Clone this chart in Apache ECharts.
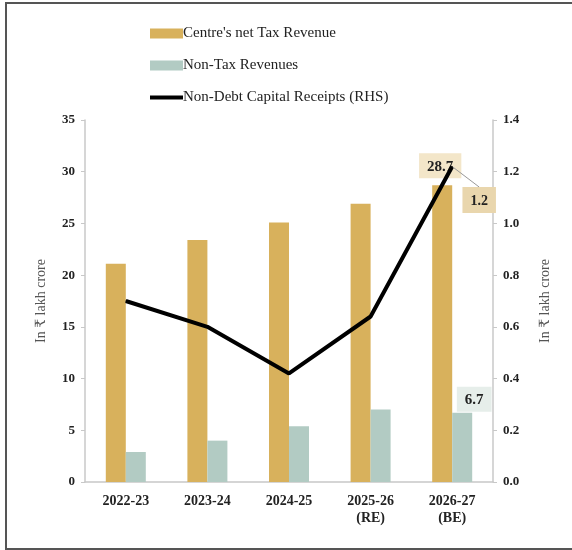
<!DOCTYPE html>
<html>
<head>
<meta charset="utf-8">
<script src="https://cdn.jsdelivr.net/npm/echarts@6/dist/echarts.min.js"></script>
<style>
  html, body { margin: 0; padding: 0; background: #fff; }
  #chart { width: 572px; height: 550px; }
</style>
</head>
<body>
<div id="chart"></div>
<script>
// 数据
const categories = ['2022-23', '2023-24', '2024-25', '2025-26\n(RE)', '2026-27\n(BE)']
const taxRevenue = [21.1, 23.4, 25.1, 26.9, 28.7]
const nonTaxRevenue = [2.9, 4.0, 5.4, 7.0, 6.7]
const capitalReceipts = [0.70, 0.60, 0.42, 0.64, 1.22]
const leftTicks = [0, 35, 5]
const rightTicks = [0, 1.4, 0.2]

const serif = '"Liberation Serif", "DejaVu Serif", serif'
const tickFont = { color: '#222', fontFamily: serif, fontWeight: 'bold', fontSize: 13 }
const last = categories.length - 1

const chart = echarts.init(document.getElementById('chart'))

const option = {
    backgroundColor: '#fff',
    animation: false,
    graphic: [{ // 外框
        type: 'rect',
        shape: { x: 6, y: 3, width: 620, height: 546 },
        style: { fill: 'none', stroke: '#555', lineWidth: 2 },
        silent: true
    }],
    grid: { left: 85, right: 79, top: 120, bottom: 68 },
    legend: {
        orient: 'vertical',
        left: 148,
        top: 26,
        padding: 0,
        itemWidth: 33,
        itemHeight: 10,
        itemGap: 17,
        textStyle: { color: '#222', fontFamily: serif, fontSize: 15, lineHeight: 14, padding: [0, 0, 0, -5] },
        data: [
            { name: "Centre's net Tax Revenue", icon: 'rect' },
            { name: 'Non-Tax Revenues', icon: 'rect' },
            { name: 'Non-Debt Capital Receipts (RHS)', itemStyle: { opacity: 0 }, lineStyle: { width: 4 } }
        ]
    },
    xAxis: {
        type: 'category',
        data: categories,
        axisLine: { lineStyle: { color: '#c8c8c8', width: 1.5 } },
        axisTick: { show: false },
        axisLabel: { ...tickFont, fontSize: 14, margin: 11, lineHeight: 17 }
    },
    yAxis: [{
        type: 'value',
        min: leftTicks[0],
        max: leftTicks[1],
        interval: leftTicks[2],
        name: 'In ₹ lakh crore',
        nameLocation: 'middle',
        nameGap: 37,
        nameTextStyle: { color: '#555', fontFamily: serif, fontSize: 14 },
        axisLine: { show: true, lineStyle: { color: '#c8c8c8', width: 1.5 } },
        axisTick: { show: true, length: 4, lineStyle: { color: '#c8c8c8' } },
        axisLabel: { ...tickFont, margin: 10 },
        splitLine: { show: false }
    }, {
        type: 'value',
        min: rightTicks[0],
        max: rightTicks[1],
        interval: rightTicks[2],
        name: 'In ₹ lakh crore',
        nameLocation: 'middle',
        nameGap: 45,
        nameRotate: 90,
        nameTextStyle: { color: '#555', fontFamily: serif, fontSize: 14 },
        axisLine: { show: true, lineStyle: { color: '#c8c8c8', width: 1.5 } },
        axisTick: { show: true, length: 4, lineStyle: { color: '#c8c8c8' } },
        axisLabel: { ...tickFont, margin: 10, formatter: v => v.toFixed(1) },
        splitLine: { show: false }
    }],
    series: [{
        type: 'bar',
        name: "Centre's net Tax Revenue",
        color: '#d8b15c',
        barWidth: 20,
        barGap: '0%',
        data: taxRevenue.map((v, i) => i === last ? {
            value: v,
            label: {
                show: true,
                position: 'top',
                distance: 7,
                offset: [-2, 0],
                backgroundColor: '#f3e6c9',
                padding: [6, 8, 4, 8],
                color: '#222',
                fontFamily: serif,
                fontWeight: 'bold',
                fontSize: 15
            }
        } : v)
    }, {
        type: 'bar',
        name: 'Non-Tax Revenues',
        color: '#b2cbc3',
        barWidth: 20,
        data: nonTaxRevenue.map((v, i) => i === last ? {
            value: v,
            label: {
                show: true,
                position: 'top',
                distance: 1,
                offset: [12, 0],
                backgroundColor: '#e6eeea',
                padding: [6, 8, 4, 8],
                color: '#222',
                fontFamily: serif,
                fontWeight: 'bold',
                fontSize: 15
            }
        } : v)
    }, {
        type: 'line',
        name: 'Non-Debt Capital Receipts (RHS)',
        yAxisIndex: 1,
        color: '#000',
        symbol: 'circle',
        symbolSize: 1,
        lineStyle: { color: '#000', width: 4 },
        data: capitalReceipts.map((v, i) => i === last ? {
            value: v,
            label: {
                show: true,
                position: 'top',
                formatter: p => p.value.toFixed(1),
                backgroundColor: '#e9d6ad',
                padding: [7, 8, 5, 8],
                color: '#222',
                fontFamily: serif,
                fontWeight: 'bold',
                fontSize: 14
            },
            labelLine: { show: true, lineStyle: { color: '#999', width: 1 } }
        } : v),
        labelLayout: p => p.dataIndex === last ? { dx: 27, dy: 52 } : {}
    }]
}

chart.setOption(option)
</script>
</body>
</html>
